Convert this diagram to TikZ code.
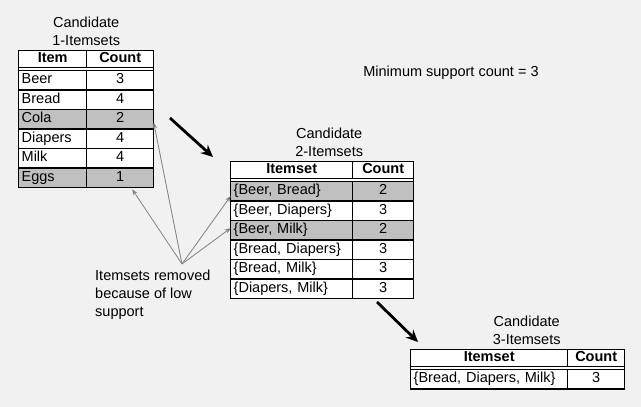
\documentclass[tikz,border=0pt]{standalone}
\usepackage{fontspec}
\setmainfont{Liberation Sans}
\usetikzlibrary{
  arrows.meta,
  matrix,       % Tables as "matrix of nodes"
  positioning,  % Function "of" (e.g. [above=of x])
}
\definecolor{paper}{RGB}{241,241,241}
\definecolor{dropped}{RGB}{192,192,192}
\newcommand{\tblfont}{\fontsize{14.5}{18}\selectfont}
\def\myrowh{19.5pt}
\def\mytblw{1.4pt}
\tikzset{
  font=\tblfont,
  x=1pt,
  y=-1pt,
  itemtable/.style={
    matrix of nodes,
    draw,
    fill=white,
    line width=\mytblw,
    inner sep=-0.7pt,
    row sep=-\mytblw,
    column sep=-\mytblw,
    nodes={
      draw,
      line width=\mytblw,
      outer sep=0pt,
      inner xsep=3pt,
      inner ysep=0pt,
      text height=10.5pt,
      text depth=3pt,
      minimum height=\myrowh,
      align=center
    },
    row 1/.style={
      nodes={font=\tblfont\bfseries, minimum height=17pt, align=center}
    }
  },
  cols/.style 2 args={
    column 1/.style={nodes={text width=#1, align=left}},
    column 2/.style={nodes={text width=#2}}
  },
  gone/.style={
    fill=dropped
  },
  heading/.style={
    align=center,
    inner sep=0pt
  },
  note/.style={
    align=left,
    inner sep=0pt
  },
  thin arrow/.style={
    draw=black!50,
    line width=0.8pt,
    -{Stealth[length=6pt,width=4.5pt]}
  },
  big arrow/.style={
    line width=2.8pt,
    -{Stealth[length=12pt,width=11pt]}
  }
}

\begin{document}
\begin{tikzpicture}
\fill[paper] (0,0) rectangle (641,407);

% Tables
\matrix (t1) [itemtable, cols={62pt}{61pt}, anchor=north west] at (18,50) {
  Item & Count \\[2.6pt]
  Beer & 3 \\
  Bread & 4 \\
  |[gone]| Cola & |[gone]| 2 \\
  Diapers & 4 \\
  Milk & 4 \\
  |[gone]| Eggs & |[gone]| 1 \\
};
\matrix (t2) [itemtable, cols={116pt}{55pt}, anchor=north west] at (230,161) {
  Itemset & Count \\[2.6pt]
  |[gone]| \{Beer, Bread\} & |[gone]| 2 \\
  \{Beer, Diapers\} & 3 \\
  |[gone]| \{Beer, Milk\} & |[gone]| 2 \\
  \{Bread, Diapers\} & 3 \\
  \{Bread, Milk\} & 3 \\
  \{Diapers, Milk\} & 3 \\
};
\matrix (t3) [itemtable, cols={151pt}{51pt}, anchor=north west] at (410,349) {
  Itemset & Count \\[2.6pt]
  \{Bread, Diapers, Milk\} & 3 \\
};

% Titles
\node[heading, above=4pt of t1] (c1) {Candidate\\1-Itemsets};
\node[heading, above=4pt of t2, xshift=7pt] (c2) {Candidate\\2-Itemsets};
\node[heading, above=4pt of t3, xshift=9pt] (c3) {Candidate\\3-Itemsets};
\node (minsup) at (451,73) {Minimum support count = 3};

% Removed itemsets
\node[note, anchor=north west] (removed) at (95,270) {Itemsets removed\\because of low\\support};
\coordinate (fan) at (182,264);
\draw[thin arrow] (fan) -- ([yshift=-3.5pt]t1-4-2.east);
\draw[thin arrow] (fan) -- ([xshift=12pt,yshift=-2pt]t1-7-2.south);
\draw[thin arrow] (fan) -- ([yshift=-5pt]t2-2-1.west);
\draw[thin arrow] (fan) -- ([yshift=2pt]t2-4-1.west);

% Next level
\coordinate (go1) at (170,118);
\coordinate (to1) at (213,157);
\coordinate (go2) at (377,302);
\coordinate (to2) at (418,342);
\draw[big arrow] (go1) -- (to1);
\draw[big arrow] (go2) -- (to2);
\end{tikzpicture}
\end{document}
